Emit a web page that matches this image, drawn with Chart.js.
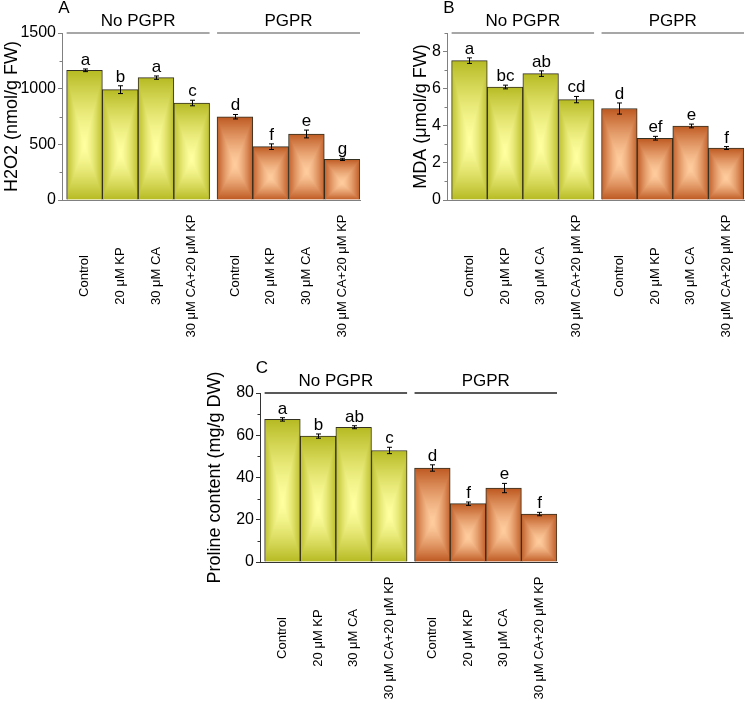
<!DOCTYPE html>
<html>
<head>
<meta charset="utf-8">
<script src="https://cdn.jsdelivr.net/npm/chart.js@4.4.1/dist/chart.umd.min.js"></script>
<style>
  body { margin: 0; background: #fff; }
  #wrap { position: relative; width: 748px; height: 703px; }
  canvas { position: absolute; }
</style>
</head>
<body>
<div id="wrap">
  <canvas id="chartA" width="374" height="340" style="left:0;top:0"></canvas>
  <canvas id="chartB" width="374" height="340" style="left:374px;top:0"></canvas>
  <canvas id="chartC" width="374" height="343" style="left:190px;top:360px"></canvas>
</div>
<script>
// ===== data =====
const categories = ['Control', '20 μM KP', '30 μM CA', '30 μM CA+20 μM KP',
                    'Control', '20 μM KP', '30 μM CA', '30 μM CA+20 μM KP'];
const groups = ['No PGPR', 'PGPR'];

const h2o2 = [1165, 991, 1099, 871, 748, 479, 593, 365];
const h2o2Err = [12, 35, 15, 25, 20, 25, 35, 10];
const h2o2Letters = ['a', 'b', 'a', 'c', 'd', 'f', 'e', 'g'];

const mda = [7.51, 6.09, 6.81, 5.41, 4.93, 3.33, 3.99, 2.80];
const mdaErr = [0.15, 0.1, 0.15, 0.17, 0.3, 0.1, 0.1, 0.08];
const mdaLetters = ['a', 'bc', 'ab', 'cd', 'd', 'ef', 'e', 'f'];

const proline = [67.5, 59.6, 63.8, 52.8, 44.5, 27.6, 35.0, 22.7];
const prolineErr = [0.8, 1.0, 0.7, 1.5, 1.5, 0.8, 2.2, 0.8];
const prolineLetters = ['a', 'b', 'ab', 'c', 'd', 'f', 'e', 'f'];

// ===== layout helpers =====
const FONT = "'Liberation Sans', Arial, sans-serif";
const GAP = 0.21;          // space between the two groups (in bar widths)
const GROUP_SIZE = 4;
const pos = i => i + (i >= GROUP_SIZE ? GAP : 0);

const greenFill = { edge: [180, 184, 30], mid: [255, 255, 160] };
const orangeFill = { edge: [186, 82, 26], mid: [255, 204, 158] };

// pyramid-style gradient like the original figure
function barPaint(ctx) {
  const chart = ctx.chart;
  const fill = ctx.dataIndex < GROUP_SIZE ? greenFill : orangeFill;
  const xs = chart.scales.x, ys = chart.scales.y;
  if (!chart.chartArea || !xs || !ys || !ctx.parsed) return `rgb(${fill.edge})`;
  const x0 = Math.floor(xs.getPixelForValue(ctx.parsed.x - 0.5)) - 1;
  const x1 = Math.ceil(xs.getPixelForValue(ctx.parsed.x + 0.5)) + 1;
  const y0 = Math.floor(ys.getPixelForValue(ctx.parsed.y)) - 1;
  const y1 = Math.ceil(ys.getPixelForValue(0)) + 1;
  const w = Math.max(2, x1 - x0), h = Math.max(2, y1 - y0);
  const off = document.createElement('canvas');
  off.width = w; off.height = h;
  const octx = off.getContext('2d');
  const img = octx.createImageData(w, h);
  const cx = w / 2, cy = h * 0.58;
  for (let j = 0; j < h; j++) {
    const py = j + 0.5;
    const dy = py < cy ? (cy - py) / cy : (py - cy) / (h - cy);
    for (let i = 0; i < w; i++) {
      const dx = Math.abs(i + 0.5 - cx) / cx;
      const t = Math.min(1, Math.pow(Math.max(dx, dy), 1.4));
      const k = (j * w + i) * 4;
      for (let c = 0; c < 3; c++) {
        img.data[k + c] = Math.round(fill.mid[c] + (fill.edge[c] - fill.mid[c]) * t);
      }
      img.data[k + 3] = 255;
    }
  }
  octx.putImageData(img, 0, 0);
  const pat = chart.ctx.createPattern(off, 'no-repeat');
  pat.setTransform(new DOMMatrix([1, 0, 0, 1, x0, y0]));
  return pat;
}

// error bars, letters, group headers, minor ticks, rotated x labels
const overlay = {
  id: 'overlay',
  afterDraw(chart, args, o) {
    const { ctx, chartArea } = chart;
    const xs = chart.scales.x, ys = chart.scales.y;
    const values = chart.data.datasets[0].data.map(d => d.y);
    ctx.save();

    // minor ticks
    ctx.strokeStyle = o.axisColor;
    ctx.lineWidth = 1;
    for (let v = o.minor; v <= ys.max + 1e-9; v += o.minor * 2) {
      const y = Math.round(ys.getPixelForValue(v)) + 0.5;
      ctx.beginPath();
      ctx.moveTo(chartArea.left - 2.5, y);
      ctx.lineTo(chartArea.left, y);
      ctx.stroke();
    }

    // error bars + letters
    ctx.strokeStyle = '#000';
    ctx.fillStyle = '#000';
    ctx.font = `17px ${FONT}`;
    ctx.textAlign = 'center';
    ctx.textBaseline = 'alphabetic';
    values.forEach((v, i) => {
      const x = Math.round(xs.getPixelForValue(pos(i))) + 0.5;
      const yt = ys.getPixelForValue(v + o.errors[i]);
      const yb = ys.getPixelForValue(v - o.errors[i]);
      ctx.beginPath();
      ctx.moveTo(x, yt); ctx.lineTo(x, yb);
      ctx.moveTo(x - 2.5, yt); ctx.lineTo(x + 2.5, yt);
      ctx.moveTo(x - 2.5, yb); ctx.lineTo(x + 2.5, yb);
      ctx.stroke();
      ctx.fillText(o.letters[i], x, yt - 4);
    });

    // group headers
    groups.forEach((g, gi) => {
      const first = gi * GROUP_SIZE, last = first + GROUP_SIZE - 1;
      const l = xs.getPixelForValue(pos(first) - 0.5);
      const r = xs.getPixelForValue(pos(last) + 0.5);
      ctx.strokeStyle = o.lineColor;
      ctx.lineWidth = 1.5;
      ctx.beginPath();
      ctx.moveTo(l, chartArea.top); ctx.lineTo(r, chartArea.top);
      ctx.stroke();
      ctx.fillStyle = '#000';
      ctx.font = `17px ${FONT}`;
      ctx.fillText(g, (l + r) / 2, chartArea.top - 7);
    });

    // panel letter
    ctx.font = `17px ${FONT}`;
    ctx.fillText(o.panel, chartArea.left + 2, chartArea.top - 20);

    // rotated category labels
    ctx.font = `13px ${FONT}`;
    ctx.textBaseline = 'middle';
    categories.forEach((c, i) => {
      ctx.save();
      ctx.translate(xs.getPixelForValue(pos(i)), chartArea.bottom + 76);
      ctx.rotate(-Math.PI / 2);
      ctx.fillText(c, 0, 0);
      ctx.restore();
    });
    ctx.restore();
  }
};

function makePanel(id, p) {
  new Chart(document.getElementById(id), {
    type: 'bar',
    data: {
      datasets: [{
        data: p.values.map((v, i) => ({ x: pos(i), y: v })),
        backgroundColor: barPaint,
        borderColor: 'rgba(30,25,10,0.9)',
        borderWidth: 1,
        barPercentage: 1,
        categoryPercentage: 1,
      }],
    },
    plugins: [overlay],
    options: {
      responsive: false,
      animation: false,
      events: [],
      layout: { padding: { top: 33, left: 0, right: p.right, bottom: 0 } },
      plugins: {
        legend: { display: false },
        tooltip: { enabled: false },
        overlay: {
          errors: p.errors, letters: p.letters, panel: p.panel,
          minor: p.step / 2, axisColor: p.axisColor, lineColor: p.lineColor,
        },
      },
      scales: {
        x: {
          type: 'linear',
          offset: false,
          min: -0.63,
          max: pos(categories.length - 1) + 0.5,
          ticks: { display: false },
          grid: { display: false },
          border: { display: true, color: p.axisColor },
          afterFit: s => { s.height = p.xHeight; },
        },
        y: {
          min: 0,
          max: p.max,
          ticks: {
            stepSize: p.step, includeBounds: false, padding: 2,
            color: '#000', font: { family: FONT, size: 16 },
            callback: v => String(v),
          },
          grid: { drawOnChartArea: false, tickLength: 4, color: p.axisColor },
          border: { color: p.axisColor },
          title: {
            display: true, text: p.title, color: '#000',
            font: { family: FONT, size: 18 }, padding: { top: p.titlePad, bottom: 0 },
          },
          afterFit: s => { s.width = p.yWidth; },
        },
      },
    },
  });
}

makePanel('chartA', {
  values: h2o2, errors: h2o2Err, letters: h2o2Letters, panel: 'A',
  title: 'H2O2 (nmol/g FW)', max: 1500, step: 500,
  yWidth: 62, right: 14, xHeight: 140, titlePad: 1,
  axisColor: '#808080', lineColor: '#8a8a8a',
});

makePanel('chartB', {
  values: mda, errors: mdaErr, letters: mdaLetters, panel: 'B',
  title: 'MDA (μmol/g FW)', max: 9, step: 2,
  yWidth: 73, right: 4, xHeight: 140, titlePad: 36,
  axisColor: '#808080', lineColor: '#8a8a8a',
});

makePanel('chartC', {
  values: proline, errors: prolineErr, letters: prolineLetters, panel: 'C',
  title: 'Proline content (mg/g DW)', max: 80, step: 20,
  yWidth: 70, right: 7, xHeight: 141, titlePad: 14,
  axisColor: '#333333', lineColor: '#222222',
});
</script>
</body>
</html>
